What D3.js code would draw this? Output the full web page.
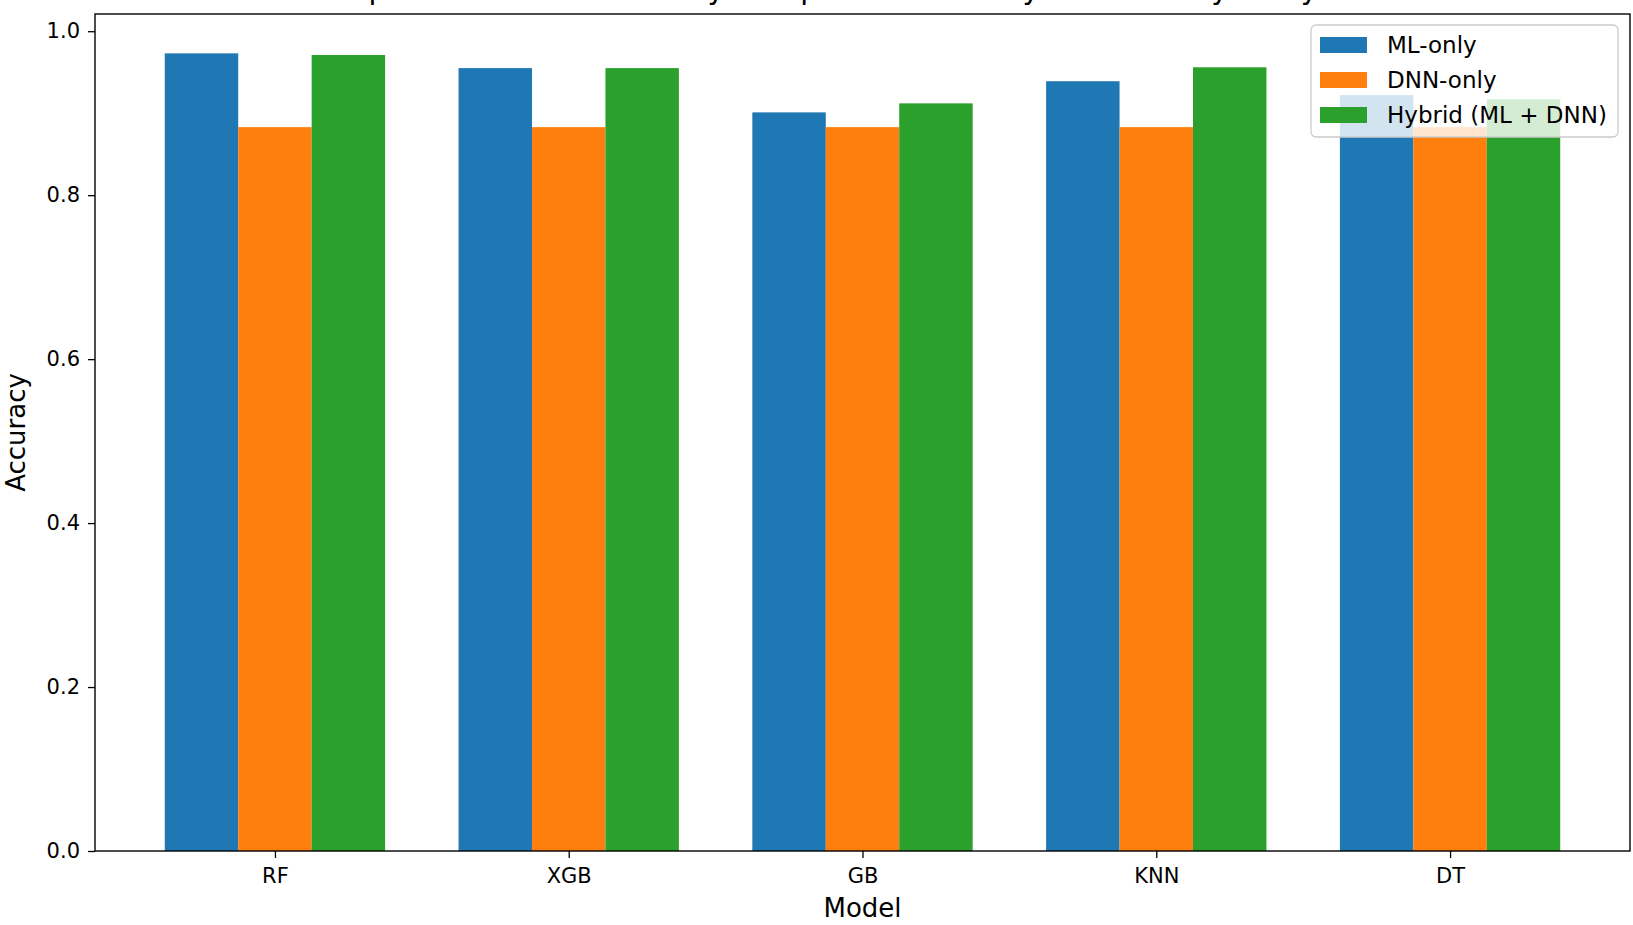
<!DOCTYPE html>
<html>
<head>
<meta charset="utf-8">
<script src="https://cdn.jsdelivr.net/npm/d3@7"></script>
<style>
  body { margin: 0; background: #fff; }
  svg text { font-family: "DejaVu Sans", sans-serif; fill: #000; }
</style>
</head>
<body>
<div id="chart"></div>
<script>
// values
const models = ["RF", "XGB", "GB", "KNN", "DT"];
const mlOnly = [0.973, 0.955, 0.901, 0.939, 0.922];
const dnnOnly = [0.883, 0.883, 0.883, 0.883, 0.883];
const hybrid = [0.971, 0.955, 0.912, 0.956, 0.917];
const seriesNames = ["ML-only", "DNN-only", "Hybrid (ML + DNN)"];
const seriesColors = ["#1f77b4", "#ff7f0e", "#2ca02c"];
const yTicks = [0, 0.2, 0.4, 0.6, 0.8, 1.0];

const width = 1633, height = 925;
const margin = { top: 14, right: 3, bottom: 74, left: 95 };
const barW = 0.25;

const svg = d3.select("#chart").append("svg")
    .attr("width", width)
    .attr("height", height);

const x = d3.scaleLinear()
    .domain([-0.6125, models.length - 1 + 0.6125])
    .range([margin.left, width - margin.right]);

const y = d3.scaleLinear()
    .domain([0, 1.021])
    .range([height - margin.bottom, margin.top]);

const series = [mlOnly, dnnOnly, hybrid];

// bars
series.forEach((vals, s) => {
    svg.append("g")
        .attr("fill", seriesColors[s])
        .selectAll("rect")
        .data(vals)
        .join("rect")
        .attr("x", (d, i) => x(i + (s - 1) * barW - barW / 2))
        .attr("width", x(barW) - x(0))
        .attr("y", d => y(d))
        .attr("height", d => y(0) - y(d));
});

// axes
const xAxis = svg.append("g")
    .attr("transform", `translate(0,${height - margin.bottom})`)
    .call(d3.axisBottom(x)
        .tickValues(d3.range(models.length))
        .tickFormat(i => models[i])
        .tickSize(7)
        .tickPadding(10));

const yAxis = svg.append("g")
    .attr("transform", `translate(${margin.left},0)`)
    .call(d3.axisLeft(y)
        .tickValues(yTicks)
        .tickFormat(d3.format(".1f"))
        .tickSize(7)
        .tickPadding(8));

[xAxis, yAxis].forEach(a => {
    a.select(".domain").remove();
    a.selectAll("line").attr("stroke", "#000").attr("stroke-width", 1.3);
    a.selectAll("text").attr("font-size", 21).attr("font-family", "DejaVu Sans");
});

// frame
svg.append("rect")
    .attr("x", margin.left)
    .attr("y", margin.top)
    .attr("width", width - margin.right - margin.left)
    .attr("height", height - margin.bottom - margin.top)
    .attr("fill", "none")
    .attr("stroke", "#000")
    .attr("stroke-width", 1.4);

// labels
svg.append("text")
    .attr("x", (margin.left + width - margin.right) / 2)
    .attr("y", 917)
    .attr("text-anchor", "middle")
    .attr("font-size", 26)
    .text("Model");

svg.append("text")
    .attr("transform", `translate(25,${(margin.top + height - margin.bottom) / 2}) rotate(-90)`)
    .attr("text-anchor", "middle")
    .attr("font-size", 26)
    .text("Accuracy");

// title, mostly cut off at the top edge like in the reference
svg.append("text")
    .attr("x", (margin.left + width - margin.right) / 2)
    .attr("y", -1)
    .attr("text-anchor", "middle")
    .attr("font-size", 29)
    .text("Spam Detection Accuracy Comparison: ML-only vs DNN-only vs Hybrid");

// legend
const legend = svg.append("g").attr("transform", "translate(1311,25)");
legend.append("rect")
    .attr("width", 307)
    .attr("height", 112)
    .attr("rx", 5)
    .attr("fill", "#fff")
    .attr("fill-opacity", 0.8)
    .attr("stroke", "#ccc")
    .attr("stroke-width", 1.3);

const item = legend.selectAll("g.item")
    .data(seriesNames)
    .join("g")
    .attr("class", "item")
    .attr("transform", (d, i) => `translate(9,${20 + i * 35})`);

item.append("rect")
    .attr("y", -8)
    .attr("width", 47)
    .attr("height", 16)
    .attr("fill", (d, i) => seriesColors[i]);

item.append("text")
    .attr("x", 67)
    .attr("dy", "0.36em")
    .attr("font-size", 23)
    .text(d => d);
</script>
</body>
</html>
